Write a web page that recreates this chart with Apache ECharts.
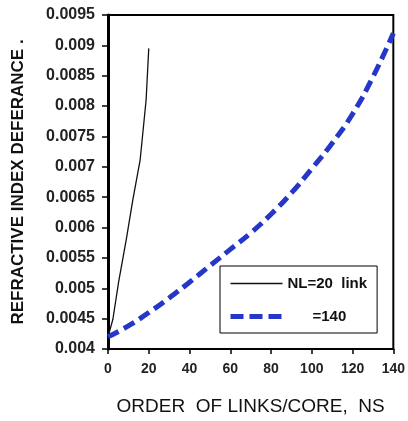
<!DOCTYPE html>
<html>
<head>
<meta charset="utf-8">
<script src="https://cdn.jsdelivr.net/npm/echarts@6/dist/echarts.min.js"></script>
<style>
    html, body { margin: 0; padding: 0; background: #fff; }
    #chart1 { width: 408px; height: 421px; }
</style>
</head>
<body>
<div id="chart1"></div>
<script>
    // NL=20 link curve
    var nl20X = [0, 2.4, 5.2, 9.0, 12.2, 15.8, 18.7, 20];
    var nl20Y = [0.0042, 0.00449, 0.0051, 0.00581, 0.00646, 0.00712, 0.0081, 0.00895];
    // NL=140 curve
    var nl140X = [0, 10, 20, 30, 40, 50, 60, 70, 80, 90, 100, 110, 120, 130, 140];
    var nl140Y = [0.0042, 0.00438, 0.0046, 0.00484, 0.0051, 0.00537, 0.00564, 0.00591, 0.00622, 0.00657, 0.00697, 0.00739, 0.00787, 0.00848, 0.0092];
    var seriesNames = ['NL=20  link', '=140'];

    function pairs(xs, ys) {
        return xs.map(function (x, i) { return [x, ys[i]]; });
    }

    var chart1 = echarts.init(document.getElementById('chart1'));
    var font = 'Arial, "Liberation Sans", sans-serif';
    var blue = '#2536c8';

    var option = {
        animation: false,
        grid: {
            left: 108, right: 11, top: 15, bottom: 71,
            show: true,
            borderColor: '#000',
            borderWidth: 2
        },
        legend: {
            orient: 'vertical',
            left: 220,
            top: 266,
            width: 155,
            borderColor: '#000',
            borderWidth: 1,
            padding: [10, 10, 9, 8],
            itemGap: 18,
            itemWidth: 52,
            itemHeight: 14,
            data: [
                { name: seriesNames[0], lineStyle: { width: 1.3, color: '#111' } },
                { name: seriesNames[1], lineStyle: { width: 5, color: blue, type: [13, 6] } }
            ],
            itemStyle: { opacity: 0 },
            formatter: function (name) {
                return name === '=140' ? '      =140' : name;
            },
            textStyle: {
                color: '#111',
                fontFamily: font,
                fontWeight: 'bold',
                fontSize: 15,
                width: 90
            }
        },
        xAxis: {
            type: 'value',
            min: 0,
            max: 140,
            interval: 20,
            name: 'ORDER  OF LINKS/CORE,  NS',
            nameLocation: 'middle',
            nameGap: 48,
            nameTextStyle: { color: '#111', fontFamily: font, fontSize: 19 },
            splitLine: { show: false },
            axisLine: { lineStyle: { color: '#000', width: 2 } },
            axisTick: { inside: false, length: 5, lineStyle: { color: '#000', width: 1.5 } },
            axisLabel: { color: '#222', fontFamily: font, fontWeight: 'bold', fontSize: 14, margin: 13 }
        },
        yAxis: {
            type: 'value',
            min: 0.004,
            max: 0.0095,
            interval: 0.0005,
            name: 'REFRACTIVE INDEX DEFERANCE .',
            nameLocation: 'middle',
            nameGap: 81,
            nameTextStyle: { color: '#111', fontFamily: font, fontWeight: 'bold', fontSize: 17 },
            splitLine: { show: false },
            axisLine: { lineStyle: { color: '#000', width: 3 } },
            axisTick: { inside: false, length: 6, lineStyle: { color: '#000', width: 1.5 } },
            axisLabel: {
                color: '#222', fontFamily: font, fontWeight: 'bold', fontSize: 16, margin: 13,
                formatter: function (v) { return String(+v.toFixed(4)); }
            }
        },
        series: [
            {
                name: seriesNames[0],
                type: 'line',
                symbol: 'none',
                data: pairs(nl20X, nl20Y),
                lineStyle: { color: '#111', width: 1.3 },
                itemStyle: { color: '#111' }
            },
            {
                name: seriesNames[1],
                type: 'line',
                symbol: 'none',
                smooth: 0.5,
                data: pairs(nl140X, nl140Y),
                lineStyle: { color: blue, width: 5, type: [12, 6] },
                itemStyle: { color: blue }
            }
        ]
    };

    chart1.setOption(option);
    window.addEventListener('resize', function () {
        chart1.resize();
    });
</script>
</body>
</html>
